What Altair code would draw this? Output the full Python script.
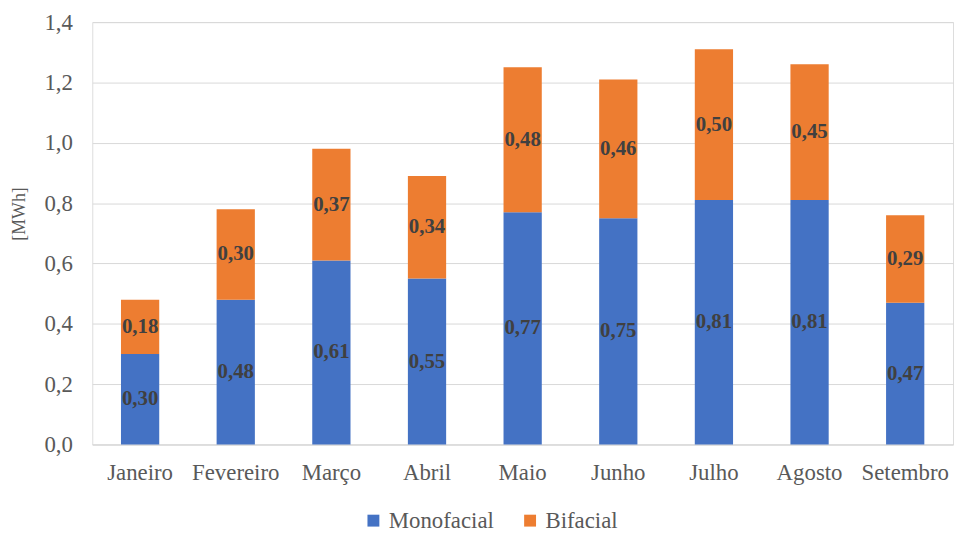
import altair as alt
import pandas as pd

months = ["Janeiro", "Fevereiro", "Março", "Abril", "Maio", "Junho", "Julho", "Agosto", "Setembro"]
monofacial = [0.30, 0.48, 0.61, 0.55, 0.77, 0.75, 0.81, 0.81, 0.47]
bifacial = [0.18, 0.30, 0.37, 0.34, 0.48, 0.46, 0.50, 0.45, 0.29]
series = ["Monofacial", "Bifacial"]
y_ticks = [0.0, 0.2, 0.4, 0.6, 0.8, 1.0, 1.2, 1.4]
colors = ["#4472C4", "#ED7D31"]

rows = []
for m, a, b in zip(months, monofacial, bifacial):
    rows.append({"mes": m, "serie": series[0], "valor": a, "ord": 0})
    rows.append({"mes": m, "serie": series[1], "valor": b, "ord": 1})
df = pd.DataFrame(rows)

FONT = "'Times New Roman', 'Liberation Serif', serif"

x_enc = alt.X("mes:N", sort=months, title=None,
              scale=alt.Scale(paddingInner=0.6, paddingOuter=0.3),
              axis=alt.Axis(labelAngle=0, labelFont=FONT, labelFontSize=23,
                            labelColor="#595959", labelPadding=17, ticks=False,
                            domain=True, domainColor="#D9D9D9", domainWidth=1))

bars = alt.Chart(df).mark_bar().encode(
    x=x_enc,
    y=alt.Y("valor:Q", stack="zero", title="[MWh]",
            scale=alt.Scale(domain=[0, 1.4], nice=False),
            axis=alt.Axis(values=y_ticks, labelExpr="replace(format(datum.value, '.1f'), '.', ',')",
                          labelFont=FONT, labelFontSize=23, labelColor="#595959",
                          labelPadding=20, ticks=False, domain=False,
                          grid=True, gridColor="#D9D9D9", gridWidth=1,
                          titleFont=FONT, titleFontSize=18, titleColor="#595959",
                          titleFontWeight="normal", titleAngle=-90,
                          titleX=-73, titleY=193, titleAlign="center",
                          titleBaseline="middle")),
    color=alt.Color("serie:N", scale=alt.Scale(domain=series, range=colors),
                    legend=alt.Legend(title=None, orient="none", direction="horizontal",
                                      legendX=272, legendY=491,
                                      symbolType="square", symbolSize=144,
                                      symbolStrokeWidth=0, labelFont=FONT,
                                      labelFontSize=23, labelColor="#595959",
                                      labelOffset=4, columnPadding=24, padding=0)),
    order=alt.Order("ord:Q", sort="ascending"),
)

labels = alt.Chart(df).transform_stack(
    stack="valor", groupby=["mes"], as_=["y0", "y1"],
    sort=[alt.SortField("ord", order="ascending")]
).transform_calculate(
    mid="(datum.y0 + datum.y1) / 2",
    txt="replace(format(datum.valor, '.2f'), '.', ',')"
).mark_text(font=FONT, fontSize=21, fontWeight="bold", color="#404040",
            baseline="middle", align="center").encode(
    x=alt.X("mes:N", sort=months),
    y=alt.Y("mid:Q"),
    text="txt:N",
)

chart = alt.layer(bars, labels).properties(
    width=868, height=426,
    autosize=alt.AutoSizeParams(type="none"),
    padding={"left": 85, "top": 12, "right": 2, "bottom": 87},
).configure_view(stroke=None).configure(background="white")

chart.save("out.html", embed_options={"renderer": "svg", "actions": False})
